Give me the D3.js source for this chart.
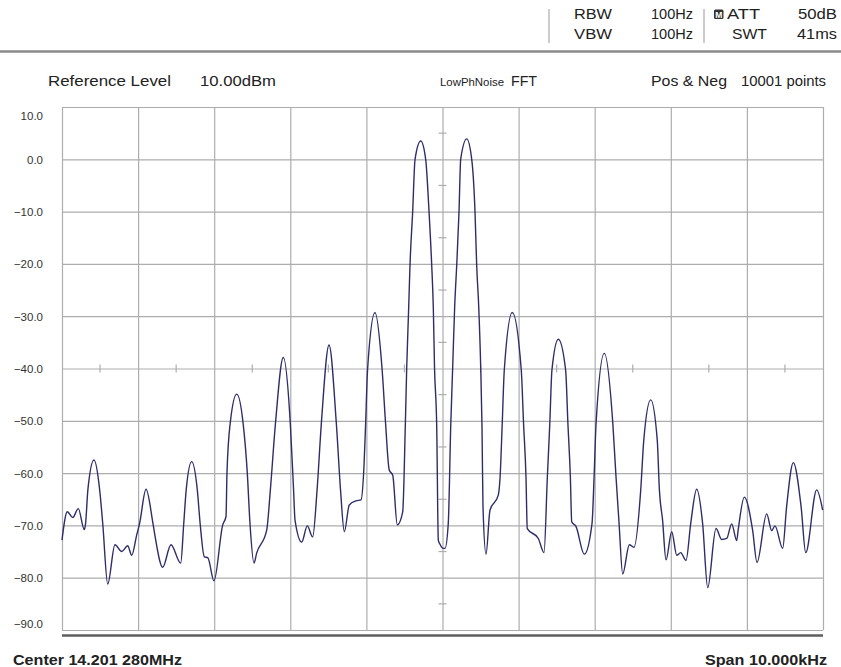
<!DOCTYPE html>
<html>
<head>
<meta charset="utf-8">
<script src="https://cdn.jsdelivr.net/npm/d3@7/dist/d3.min.js"></script>
<style>
  html, body { margin: 0; padding: 0; background: #fff; }
  svg { display: block; }
  text { font-family: "Liberation Sans", Arial, sans-serif; fill: #222; }
</style>
</head>
<body>
<svg id="chart" width="841" height="667"></svg>
<script>
// ---------- data (frequency offset from center in kHz, level in dBm) ----------
const freqOffsetKHz = [
  -5.000, -4.930, -4.859, -4.786, -4.707, -4.690, -4.660, -4.580, -4.505, -4.465,
  -4.399, -4.304, -4.215, -4.137, -4.084, -4.018, -3.980, -3.896, -3.805, -3.778,
  -3.677, -3.568, -3.440, -3.400, -3.368, -3.296, -3.222, -3.185, -3.130, -3.083,
  -3.003, -2.888, -2.845, -2.832, -2.790, -2.704, -2.620, -2.565, -2.530, -2.477,
  -2.442, -2.310, -2.262, -2.195, -2.092, -2.000, -1.957, -1.938, -1.850, -1.777,
  -1.706, -1.648, -1.592, -1.491, -1.395, -1.340, -1.290, -1.225, -1.137, -1.071,
  -1.030, -1.010, -0.985, -0.887, -0.793, -0.748, -0.700, -0.654, -0.594, -0.523,
  -0.489, -0.470, -0.444, -0.427, -0.392, -0.361, -0.286, -0.221, -0.177, -0.142,
  -0.121, -0.105, -0.076, -0.055, -0.033, 0.011, 0.033, 0.076, 0.108, 0.134,
  0.160, 0.187, 0.217, 0.239, 0.318, 0.384, 0.427, 0.449, 0.476, 0.502,
  0.519, 0.532, 0.572, 0.624, 0.733, 0.757, 0.785, 0.812, 0.917, 1.035,
  1.065, 1.097, 1.114, 1.259, 1.334, 1.378, 1.410, 1.438, 1.522, 1.618,
  1.648, 1.680, 1.698, 1.754, 1.863, 1.965, 1.992, 2.018, 2.126, 2.238,
  2.280, 2.320, 2.368, 2.455, 2.516, 2.605, 2.645, 2.736, 2.822, 2.850,
  2.892, 2.937, 3.012, 3.078, 3.130, 3.200, 3.262, 3.340, 3.418, 3.485,
  3.594, 3.669, 3.735, 3.800, 3.866, 3.885, 3.966, 4.075, 4.133, 4.260,
  4.326, 4.369, 4.470, 4.522, 4.610, 4.712, 4.773, 4.917, 4.996
];
const levelDbm = [
  -72.8, -67.4, -68.5, -66.8, -70.8, -69.6, -63.2, -57.5, -63.2, -69.6,
  -81.2, -73.7, -75.0, -73.9, -75.7, -71.8, -69.6, -63.1, -69.6, -72.0,
  -78.0, -73.7, -77.2, -69.6, -63.2, -57.8, -63.2, -69.6, -76.0, -76.2,
  -80.6, -69.9, -68.3, -60.0, -50.5, -44.9, -50.5, -60.0, -69.6, -77.2,
  -75.3, -70.9, -63.2, -50.5, -37.9, -50.5, -63.2, -69.0, -73.2, -70.1,
  -72.2, -63.2, -50.5, -35.5, -50.5, -63.2, -71.2, -66.1, -65.3, -65.1,
  -58.1, -50.5, -40.3, -29.3, -40.3, -50.5, -59.4, -60.4, -69.9, -67.4,
  -51.1, -39.7, -28.2, -20.2, -10.0, 0.0, 3.5, 0.0, -10.0, -20.2,
  -28.2, -39.7, -51.1, -72.8, -73.6, -74.4, -74.4, -69.6, -51.1, -39.7,
  -28.2, -20.2, -10.0, 0.0, 3.9, 0.0, -10.0, -20.2, -28.2, -39.7,
  -51.1, -66.4, -75.5, -67.1, -64.2, -60.7, -50.5, -40.3, -29.3, -40.3,
  -50.5, -60.7, -70.6, -72.5, -75.2, -60.7, -50.5, -40.3, -34.4, -40.3,
  -50.5, -60.7, -69.3, -70.2, -75.5, -69.6, -60.7, -50.5, -37.1, -50.5,
  -60.7, -69.6, -79.3, -73.7, -74.2, -63.2, -53.7, -46.0, -53.7, -63.2,
  -69.0, -76.6, -71.2, -75.7, -75.2, -76.7, -69.6, -63.1, -69.6, -81.9,
  -70.6, -72.7, -72.5, -69.7, -72.9, -70.9, -64.6, -70.9, -77.1, -67.8,
  -71.0, -70.1, -74.4, -66.4, -58.0, -66.4, -75.2, -63.2, -67.1
];
const yTickValues = [10, 0, -10, -20, -30, -40, -50, -60, -70, -80, -90];
const xGridValues = [-5, -4, -3, -2, -1, 0, 1, 2, 3, 4, 5];
const xMinorValues = [-4.5, -3.5, -2.5, -1.5, -0.5, 0.5, 1.5, 2.5, 3.5, 4.5];
const yMinorValues = [5, -5, -15, -25, -35, -45, -55, -65, -75, -85];

// ---------- layout ----------
const svg = d3.select("#chart");
const L = 62, R = 823, T = 107, B = 630;
const x = d3.scaleLinear().domain([-5, 5]).range([L, R]);
const y = d3.scaleLinear().domain([-90, 10]).range([B, T]);
const gridColor = "#adadad";

// header
const hdr = svg.append("g").attr("font-size", 15);
function txt(s, x0, x1, base, opts = {}) {
  const t = hdr.append("text").attr("x", x0).attr("y", base).text(s)
    .attr("textLength", x1 - x0).attr("lengthAdjust", "spacingAndGlyphs");
  if (opts.size) t.attr("font-size", opts.size);
  return t;
}
txt("RBW", 574, 612, 19);
txt("100Hz", 651, 693, 19);
txt("ATT", 727, 760, 19);
txt("50dB", 798, 837, 19);
txt("VBW", 574, 612, 39);
txt("100Hz", 651, 693, 39);
txt("SWT", 732, 767, 39);
txt("41ms", 797, 837, 39);
// M icon
hdr.append("rect").attr("x", 714).attr("y", 9.5).attr("width", 9.5).attr("height", 9.5)
  .attr("rx", 1.5).attr("fill", "#333");
hdr.append("text").attr("x", 718.75).attr("y", 17.5).attr("text-anchor", "middle")
  .attr("font-size", 8.5).attr("font-weight", "bold").style("fill", "#fff").text("M");
// separators
svg.append("line").attr("x1", 549).attr("x2", 549).attr("y1", 9).attr("y2", 43)
  .attr("stroke", "#999").attr("stroke-width", 1);
svg.append("line").attr("x1", 704).attr("x2", 704).attr("y1", 9).attr("y2", 43)
  .attr("stroke", "#999").attr("stroke-width", 1);
svg.append("line").attr("x1", 0).attr("x2", 841).attr("y1", 51.5).attr("y2", 51.5)
  .attr("stroke", "#8a8a8a").attr("stroke-width", 2.5);

// second row
txt("Reference Level", 48, 171, 86, { size: 14.5 });
txt("10.00dBm", 200, 276, 86, { size: 14.5 });
txt("LowPhNoise", 440, 504, 86, { size: 11 });
txt("FFT", 511, 537, 86, { size: 14.5 });
txt("Pos & Neg", 651, 727, 86, { size: 14.5 });
txt("10001 points", 741, 826, 86, { size: 14.5 });

// grid
const plot = svg.append("g");
plot.append("g").attr("transform", `translate(0,${B})`)
  .call(d3.axisBottom(x).tickValues(xGridValues).tickSize(-(B - T)).tickFormat(""))
  .call(g => g.select(".domain").remove())
  .call(g => g.selectAll("line").attr("stroke", gridColor).attr("stroke-width", 1.2));
plot.append("g").attr("transform", `translate(${L},0)`)
  .call(d3.axisLeft(y).tickValues(yTickValues).tickSize(-(R - L)).tickFormat(""))
  .call(g => g.select(".domain").remove())
  .call(g => g.selectAll("line").attr("stroke", gridColor).attr("stroke-width", 1.2));

// minor ticks on center cross
plot.selectAll("line.ymin").data(yMinorValues).join("line")
  .attr("x1", x(0) - 4).attr("x2", x(0) + 4)
  .attr("y1", d => y(d)).attr("y2", d => y(d))
  .attr("stroke", gridColor).attr("stroke-width", 1.2);
plot.selectAll("line.xmin").data(xMinorValues).join("line")
  .attr("x1", d => x(d)).attr("x2", d => x(d))
  .attr("y1", y(-40) - 4).attr("y2", y(-40) + 4)
  .attr("stroke", gridColor).attr("stroke-width", 1.2);

// y labels
const yAx = svg.append("g").attr("transform", `translate(43,0)`)
  .call(d3.axisLeft(y).tickValues(yTickValues).tickSize(0).tickPadding(0)
    .tickFormat(d => d3.format(".1f")(d)));
yAx.select(".domain").remove();
yAx.selectAll("text")
  .attr("font-family", "'Liberation Sans', Arial, sans-serif")
  .attr("font-size", 11.5).style("fill", "#333")
  .attr("dy", d => d === 10 ? "1.05em" : (d === -90 ? "-0.2em" : "0.35em"));

// bottom thick line
svg.append("line").attr("x1", L).attr("x2", R).attr("y1", 635.5).attr("y2", 635.5)
  .attr("stroke", "#5e5e5e").attr("stroke-width", 2.5);

// trace
const pts = freqOffsetKHz.map((f, i) => [f, levelDbm[i]]);
const line = d3.line().x(d => x(d[0])).y(d => y(d[1])).curve(d3.curveMonotoneX);
svg.append("path").attr("d", line(pts)).attr("fill", "none")
  .attr("stroke", "#2d2d6b").attr("stroke-width", 1.4).attr("stroke-linejoin", "round");

// bottom labels
svg.append("text").attr("x", 13).attr("y", 665).attr("font-size", 15).attr("font-weight", "bold")
  .attr("textLength", 169).attr("lengthAdjust", "spacingAndGlyphs").text("Center 14.201 280MHz");
svg.append("text").attr("x", 705).attr("y", 665).attr("font-size", 15).attr("font-weight", "bold")
  .attr("textLength", 122).attr("lengthAdjust", "spacingAndGlyphs").text("Span 10.000kHz");
</script>
</body>
</html>
